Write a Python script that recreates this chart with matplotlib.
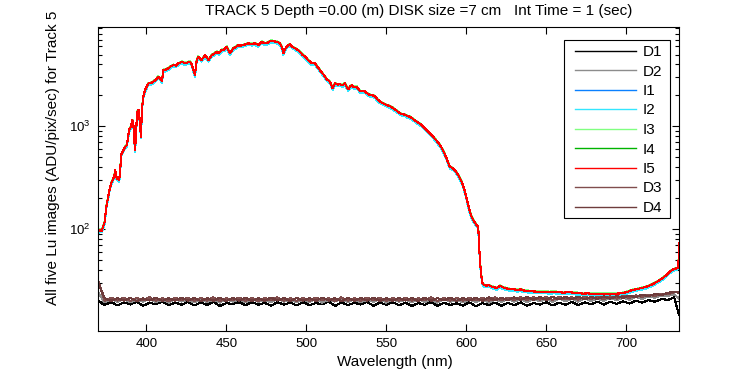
import numpy as np
import matplotlib
matplotlib.use("Agg")
import matplotlib.pyplot as plt
from matplotlib.patches import Rectangle
from matplotlib.ticker import LogLocator, LogFormatterMathtext, NullFormatter, FixedLocator

plt.rcParams['font.family'] = ['Liberation Sans', 'DejaVu Sans']
plt.rcParams['mathtext.fontset'] = 'custom'
plt.rcParams['mathtext.rm'] = 'Liberation Sans'
plt.rcParams['mathtext.it'] = 'Liberation Sans'
plt.rcParams['mathtext.default'] = 'regular'

title_text = "TRACK 5 Depth =0.00 (m) DISK size =7 cm   Int Time = 1 (sec)"
xlabel_text = "Wavelength (nm)"
ylabel_text = "All five Lu images (ADU/pix/sec) for Track 5"

labels = ["D1", "D2", "I1", "I2", "I3", "I4", "I5", "D3", "D4"]
colors = {"D1": "#000000", "D2": "#8c8c8c", "I1": "#0a80ff", "I2": "#33e6ff",
          "I3": "#80ff80", "I4": "#00b300", "I5": "#ff0000", "D3": "#804d4d", "D4": "#6e3c3c"}

# Lu spectrum (I5, top trace)
wl_lu = [370, 371, 372, 373, 374, 375, 376, 377, 378, 379, 380, 380.5, 381.5, 383, 383.6, 384.2,
         385.5, 386.7, 387.7, 388.5, 389.2, 390.4, 391.3, 392, 392.5, 393, 394, 394.6, 395.3, 396,
         396.7, 397.2, 398.1, 399.2, 401.3, 403, 404.4, 406, 407.5, 408.8, 409.8, 410.6, 412, 413.8,
         415, 416.9, 418.5, 420, 422.5, 424, 425, 427.3, 428.5, 429.4, 430.4, 431.5, 432.5, 433.5,
         434.6, 436.7, 438.8, 440.9, 442.5, 444, 445.5, 447.1, 448.7, 450.3, 451.3, 452.3, 454.4,
         456, 457.5, 459, 460.6, 462, 463.8, 466, 467.9, 470, 472.1, 473.5, 475.2, 477, 478.4, 480,
         481.5, 483.6, 485, 485.6, 486.5, 487.7, 489.8, 491, 492.9, 494.5, 496.1, 497.5, 499.2, 501,
         503.4, 505.5, 507, 508.6, 510, 511.7, 513, 514.8, 516.5, 517.9, 519.5, 521.1, 522.5, 524.2,
         525, 526.3, 527.5, 528.4, 530, 531.5, 533.6, 535, 536.7, 538, 539.8, 541.5, 543, 544.5,
         546.1, 548, 550.3, 552.5, 554.4, 556.5, 558.6, 560, 561.7, 563, 564.8, 567, 569, 570.5,
         572.1, 573.5, 575.2, 577, 579.4, 581.5, 583.6, 585, 586.5, 587.7, 589, 589.8, 591.5, 592.9,
         594.5, 596.1, 597.5, 599.2, 600.5, 602.3, 603.5, 604.4, 606, 607.5, 608.1, 609.2, 610.2,
         611, 612.5, 614, 616, 618, 619, 621, 623, 625, 627, 629.4, 632, 634, 636, 638, 640, 643,
         646, 649, 652, 655, 658, 661, 664, 667, 670, 673, 676, 680, 684, 688, 692, 696, 700, 704,
         708, 712.7, 716, 719, 721, 723, 725, 727.3, 729.5, 731.5, 732.6, 733]
lu_i5 = [94, 98, 96, 105, 118, 165, 200, 240, 279, 300, 330, 375, 312, 300, 348, 525,
         580, 630, 650, 760, 920, 990, 1150, 1000, 736, 588, 1150, 1440, 1440, 1070,
         790, 1440, 1940, 2250, 2620, 2650, 2720, 2850, 3040, 2900, 2750, 3530, 3550, 3670,
         3800, 3960, 3900, 4100, 4260, 4100, 4150, 4260, 4000, 3530, 3160, 4430, 4770, 4600,
         4430, 4940, 4430, 4940, 5100, 5320, 5150, 5530, 5600, 5960, 5500, 5130, 5750,
         5900, 6190, 6100, 6190, 6300, 6430, 6350, 6430, 6190, 6670, 6500, 6430, 6700, 6830, 6700,
         6670, 6430, 5800, 5130, 5500, 5960, 6320, 6000, 5750, 5550, 5320, 5000, 4770, 4450,
         4100, 4100, 3800, 3530, 3300, 3040, 2850, 2720, 2340, 2620, 2550, 2580, 2500, 2620,
         2450, 2290, 2450, 2500, 2400, 2430, 2210, 2200, 2180, 2100, 2020, 2000, 1950, 1830,
         1740, 1680, 1610, 1560, 1500, 1420, 1340, 1310, 1300, 1260, 1240, 1170, 1110, 1070,
         1030, 980, 920, 860, 790, 720, 658, 600, 540, 488, 430, 404, 390, 375,
         345, 312, 280, 231, 190, 147, 130, 122, 112, 105, 65, 37, 29.6,
         28.5, 28.0, 28.5, 27.5, 27.0, 26.5, 28.0, 27.0, 26.5, 26.0, 25.9, 25.5, 25.8, 25.2, 25.0, 24.8, 24.6,
         24.5, 24.6, 24.3, 24.5, 24.2, 24.0, 24.3, 24.0, 23.8, 23.5, 23.6, 23.3, 23.3, 23.5, 23.4, 23.6, 24.2, 25.5,
         26.3, 27.4, 28.7, 30.5, 31.8, 33.5, 35.5, 38.4, 40.5, 41.4, 42.0, 73]
# level of each Lu image relative to I5
lu_ratio = {"I1": 0.98, "I2": 0.965, "I3": 1.01, "I4": 1.0, "I5": 1.0}

# dark traces, 4 nm sampling plus the last pixel
wl_dark = list(range(370, 731, 4)) + [733]
dark = {
    "D1": [19.8, 18.2, 19.5, 18.0, 19.3, 18.4, 19.6, 17.9, 19.1, 18.5, 19.7, 18.1, 19.2, 18.3, 19.5, 18.0,
           19.3, 18.2, 19.6, 17.8, 19.0, 18.6, 19.4, 18.1, 19.5, 18.3, 19.1, 17.9, 19.4, 18.4, 19.2, 18.0,
           19.5, 18.1, 19.0, 18.5, 19.6, 17.8, 19.3, 18.2, 19.1, 18.4, 19.5, 17.9, 19.2, 18.3, 19.4, 18.1,
           19.2, 17.8, 19.0, 18.3, 19.4, 17.9, 19.1, 18.2, 18.9, 18.0, 19.3, 17.7, 19.0, 18.2, 19.2, 17.9,
           19.1, 18.1, 19.3, 17.9, 19.0, 18.4, 19.4, 18.0, 19.2, 18.3, 19.5, 18.2, 19.3, 18.5, 19.6, 18.4,
           19.6, 18.7, 19.8, 18.8, 20.0, 19.2, 20.3, 19.6, 20.8, 20.4, 21.6, 14.5],
    "D2": [24.0, 19.4, 20.8, 19.5, 20.9, 19.3, 20.7, 19.6, 21.0, 19.4, 20.6, 19.2, 20.9, 19.7, 20.5, 19.3,
           20.8, 19.5, 20.6, 19.2, 21.0, 19.6, 20.7, 19.3, 20.9, 19.5, 20.4, 19.4, 21.0, 19.6, 20.7, 19.3,
           20.6, 19.4, 20.9, 19.2, 20.5, 19.7, 21.0, 19.4, 20.8, 19.3, 20.6, 19.5, 20.9, 19.2, 20.7, 19.6,
           20.5, 19.3, 20.8, 19.4, 20.6, 19.2, 20.9, 19.5, 20.4, 19.3, 20.7, 19.4, 20.8, 19.2, 20.6, 19.5,
           20.9, 19.6, 20.7, 19.4, 21.0, 19.7, 20.8, 19.5, 21.1, 19.8, 20.9, 19.6, 21.2, 19.9, 21.0, 20.0,
           21.3, 20.2, 21.5, 20.4, 21.8, 20.9, 22.1, 21.4, 22.6, 22.3, 23.2, 21.0],
    "D3": [31.0, 20.0, 21.4, 20.1, 21.5, 19.9, 21.3, 20.2, 21.6, 20.0, 21.2, 19.8, 21.5, 20.3, 21.4, 20.0,
           21.3, 20.1, 21.6, 19.9, 21.2, 20.2, 21.5, 20.0, 21.4, 19.8, 21.3, 20.2, 21.6, 20.1, 21.2, 19.9,
           21.4, 20.0, 21.5, 20.2, 21.3, 19.9, 21.6, 20.1, 21.2, 20.0, 21.5, 20.3, 21.4, 19.9, 21.3, 20.1,
           21.5, 20.0, 21.2, 20.2, 21.6, 19.9, 21.4, 20.1, 21.3, 20.0, 21.5, 20.2, 21.4, 20.1, 21.6, 20.3,
           21.5, 20.4, 21.7, 20.3, 21.6, 20.5, 21.8, 20.4, 21.9, 20.6, 21.7, 20.5, 22.0, 20.8, 21.9, 20.7,
           22.1, 21.0, 22.3, 21.3, 22.6, 21.8, 23.0, 22.2, 23.5, 23.1, 24.2, 24.5],
    "D4": [29.5, 21.2, 19.9, 21.3, 20.0, 21.4, 19.8, 21.1, 20.1, 21.5, 19.9, 21.2, 20.0, 21.4, 20.1, 21.3,
           19.9, 21.2, 20.0, 21.5, 19.8, 21.3, 20.1, 21.4, 19.9, 21.2, 20.0, 21.5, 20.1, 21.3, 19.8, 21.4,
           20.0, 21.3, 19.9, 21.5, 20.1, 21.2, 19.8, 21.4, 20.0, 21.3, 20.1, 21.5, 19.9, 21.2, 20.0, 21.4,
           20.1, 21.3, 19.9, 21.4, 20.0, 21.2, 20.2, 21.5, 19.9, 21.3, 20.1, 21.4, 20.0, 21.6, 20.2, 21.4,
           20.3, 21.6, 20.4, 21.7, 20.5, 21.8, 20.4, 21.9, 20.6, 21.8, 20.7, 22.0, 20.6, 21.9, 20.8, 22.1,
           21.0, 22.2, 21.4, 22.5, 21.7, 22.9, 22.2, 23.3, 22.8, 23.9, 24.4, 24.0],
}

x_ticks = [400, 450, 500, 550, 600, 650, 700]
x_lim = (369.8, 733.0)
y_lim = (10.16, 9270)

W, H = 750, 375
fig = plt.figure(figsize=(7.5, 3.75), dpi=100)
ax = fig.add_axes([98/W, 1-331/H, (679-98)/W, (331-27)/H])

handles = []
for lab in labels:
    if lab.startswith("D"):
        h, = ax.plot(wl_dark, dark[lab], color=colors[lab], lw=0.8, label=lab, antialiased=False)
    else:
        vals = np.array(lu_i5) * lu_ratio[lab]
        h, = ax.plot(wl_lu, vals, color=colors[lab], lw=0.8, label=lab, antialiased=False)
    handles.append(h)

ax.set_yscale('log')
ax.set_xlim(*x_lim)
ax.set_ylim(*y_lim)
ax.xaxis.set_major_locator(FixedLocator(x_ticks))
ax.yaxis.set_major_locator(LogLocator(base=10))
ax.yaxis.set_major_formatter(LogFormatterMathtext())
ax.yaxis.set_minor_locator(LogLocator(base=10, subs=np.arange(2, 10)))
ax.yaxis.set_minor_formatter(NullFormatter())
ax.tick_params(which='both', direction='in', top=True, right=True, labelsize=9.5, width=0.8)
ax.tick_params(which='major', length=5, pad=5)
ax.tick_params(which='minor', length=3)
for s in ax.spines.values():
    s.set_linewidth(0.8)

fig.text(419/W, 1-15/H, title_text, ha='center', va='baseline', fontsize=11)
fig.text(395/W, 1-362/H, xlabel_text, ha='center', va='center', fontsize=11)
fig.text(53.5/W, 1-305/H, ylabel_text, rotation=90, ha='center', va='bottom', fontsize=11)

# legend box
fig.patches.append(Rectangle((564.3/W, 1-218.3/H), 106/W, 178.3/H, transform=fig.transFigure,
                             facecolor='white', edgecolor='black', lw=0.8, zorder=5))
leg_handles = [plt.Line2D([], [], color=colors[lab], lw=1.0) for lab in labels]
leg = fig.legend(handles=leg_handles, labels=labels, loc='upper left',
                 bbox_to_anchor=(575/W, 1-45/H), fontsize=11, frameon=False,
                 handlelength=4.0, handletextpad=0.45, labelspacing=0.36, borderpad=0,
                 borderaxespad=0)
leg.set_zorder(6)

fig.savefig("out.png", dpi=100)
